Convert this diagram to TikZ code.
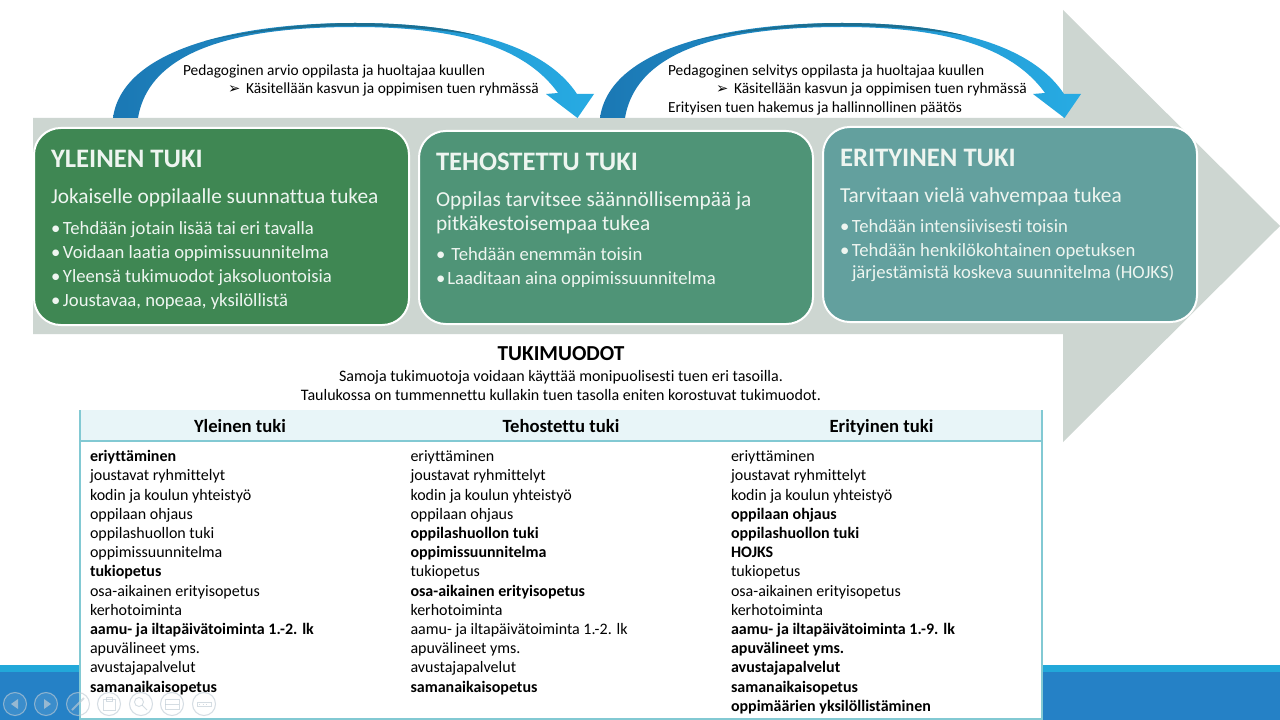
\documentclass[tikz,border=0pt]{standalone}
\usepackage{fontspec}
\setmainfont{Carlito}[Ligatures=NoCommon]
\newfontfamily\djv{DejaVu Sans}
\definecolor{bandgrey}{HTML}{CDD6D1}
\definecolor{boxa}{HTML}{3F8753}
\definecolor{boxb}{HTML}{4F9477}
\definecolor{boxc}{HTML}{63A09E}
\definecolor{tabline}{HTML}{82C9D3}
\definecolor{tabhead}{HTML}{E8F5F8}
\definecolor{footblue}{HTML}{2581C6}
\definecolor{footlight}{HTML}{22A8D9}
\definecolor{arrdark}{HTML}{1B78B4}
\definecolor{arrmid}{HTML}{1F8FC8}
\definecolor{arrlight}{HTML}{27ABE3}
\definecolor{arrtop}{HTML}{1C6E90}
\definecolor{paletext}{HTML}{EEF5F0}
\definecolor{navgrey}{HTML}{BFCBD4}
\newcommand{\bul}[1]{\makebox[#1][l]{•}}
\tikzset{
  x=0.75pt,y=-0.75pt,
  txt/.style={anchor=base west,inner sep=0pt,outer sep=0pt},
  stagebox/.style={draw=white,line width=1.5pt,rounded corners=20pt},
  boxtitle/.style={txt,text=paletext,font=\fontsize{20}{22}\selectfont\bfseries},
  boxsub/.style={txt,text=paletext,font=\fontsize{16}{18}\selectfont},
  boxitem/.style={txt,text=paletext,font=\fontsize{14}{16}\selectfont},
  flownote/.style={txt,font=\fontsize{11.55}{13}\selectfont},
  tcell/.style={txt,font=\fontsize{12}{14}\selectfont},
  thead/.style={anchor=base,inner sep=0pt,font=\fontsize{14}{16}\selectfont\bfseries},
  centerline/.style={anchor=base,inner sep=0pt,font=\fontsize{12}{14}\selectfont},
  navring/.style={draw=navgrey,line width=0.8pt,fill=white,fill opacity=0.10,draw opacity=0.65},
  navmark/.style={draw=navgrey,line width=0.7pt,draw opacity=0.65},
  navsolid/.style={fill=navgrey,fill opacity=0.7},
  bendarrow/.pic={
    \shade[left color=arrdark,middle color=arrmid,right color=arrlight]
      (113,118) .. controls (122,50) and (235,23) .. (355,23)
      .. controls (445,23) and (540,38) .. (577,94)
      -- (594,94) -- (577.5,118) -- (546,94) -- (558,93)
      .. controls (520,40) and (440,27) .. (355,27)
      .. controls (250,27) and (150,45) .. (138,118) -- cycle;
    \fill[arrtop] (205,41) .. controls (260,28) and (310,23) .. (355,23)
      .. controls (400,23) and (445,27) .. (480,36)
      .. controls (445,30) and (400,26) .. (355,26)
      .. controls (310,26) and (260,30) .. (205,41) -- cycle;
  },
}
\begin{document}
\begin{tikzpicture}
\useasboundingbox (0,0) rectangle (1280,720);
\fill[white] (0,0) rectangle (1280,720);
% footer
\fill[footblue] (0,665) rectangle (1280,720);
\fill[footlight] (0,665) rectangle (1280,672);
% big grey arrow
\fill[bandgrey] (33,118) -- (1063,118) -- (1063,10) -- (1280,226) -- (1063,442) -- (1063,334) -- (33,334) -- cycle;
% curved arrows
\pic at (0,0) {bendarrow};
\pic at (487,0) {bendarrow};
% stage boxes
\draw[stagebox,fill=boxa] (34,128) rectangle (409,325);
\draw[stagebox,fill=boxb] (419,131) rectangle (813,324);
\draw[stagebox,fill=boxc] (823,127) rectangle (1197,322);
% notes
\node[flownote] (n1) at (183,76) {Pedagoginen arvio oppilasta ja huoltajaa kuullen};
\node[flownote] (n2) at (228,94) {{\djv\fontsize{11}{13}\selectfont ➢}};
\node[flownote] (n3) at (246,94) {Käsitellään kasvun ja oppimisen tuen ryhmässä};
\node[flownote] (n4) at (668,76) {Pedagoginen selvitys oppilasta ja huoltajaa kuullen};
\node[flownote] (n5) at (716,94) {{\djv\fontsize{11}{13}\selectfont ➢}};
\node[flownote] (n6) at (734,94) {Käsitellään kasvun ja oppimisen tuen ryhmässä};
\node[flownote] (n7) at (668,113) {Erityisen tuen hakemus ja hallinnollinen päätös};
% box 1
\node[boxtitle] (a0) at (51,168) {YLEINEN TUKI};
\node[boxsub] (a1) at (51,204) {Jokaiselle oppilaalle suunnattua tukea};
\node[boxitem] (a2) at (51,234) {\bul{9pt}Tehdään jotain lisää tai eri tavalla};
\node[boxitem] (a3) at (51,258) {\bul{9pt}Voidaan laatia oppimissuunnitelma};
\node[boxitem] (a4) at (51,282) {\bul{9pt}Yleensä tukimuodot jaksoluontoisia};
\node[boxitem] (a5) at (51,306) {\bul{9pt}Joustavaa, nopeaa, yksilöllistä};
% box 2
\node[boxtitle] (b0) at (436,171) {TEHOSTETTU TUKI};
\node[boxsub] (b1) at (436,207) {Oppilas tarvitsee säännöllisempää ja};
\node[boxsub] (b2) at (436,230) {pitkäkestoisempaa tukea};
\node[boxitem] (b3) at (436,260) {\bul{11.5pt}Tehdään enemmän toisin};
\node[boxitem] (b4) at (436,284) {\bul{8.5pt}Laaditaan aina oppimissuunnitelma};
% box 3
\node[boxtitle] (c0) at (840,167) {ERITYINEN TUKI};
\node[boxsub] (c1) at (840,203) {Tarvitaan vielä vahvempaa tukea};
\node[boxitem] (c2) at (840,233) {\bul{9pt}Tehdään intensiivisesti toisin};
\node[boxitem] (c3) at (840,257) {\bul{9pt}Tehdään henkilökohtainen opetuksen};
\node[boxitem] (c4) at (852,278) {järjestämistä koskeva suunnitelma (HOJKS)};
% heading
\node[anchor=base,inner sep=0pt,font=\fontsize{16}{18}\selectfont\bfseries] (h0) at (561,360) {TUKIMUODOT};
\node[centerline] (h1) at (561,381) {Samoja tukimuotoja voidaan käyttää monipuolisesti tuen eri tasoilla.};
\node[centerline] (h2) at (561,400) {Taulukossa on tummennettu kullakin tuen tasolla eniten korostuvat tukimuodot.};
% table
\fill[white] (80,410) rectangle (1042,719);
\fill[tabhead] (80,410) rectangle (1042,441);
\draw[tabline,line width=1pt] (80,410) -- (80,719) -- (1042,719) -- (1042,410);
\draw[tabline,line width=1pt] (80,441) -- (1042,441);
\node[thead] (t1) at (240,432) {Yleinen tuki};
\node[thead] (t2) at (561,432) {Tehostettu tuki};
\node[thead] (t3) at (881.5,432) {Erityinen tuki};
% column 1
\node[tcell] (p1) at (90,461.7) {\textbf{eriyttäminen}};
\node[tcell] (p2) at (90,480.9) {joustavat ryhmittelyt};
\node[tcell] (p3) at (90,500.1) {kodin ja koulun yhteistyö};
\node[tcell] (p4) at (90,519.3) {oppilaan ohjaus};
\node[tcell] (p5) at (90,538.5) {oppilashuollon tuki};
\node[tcell] (p6) at (90,557.7) {oppimissuunnitelma};
\node[tcell] (p7) at (90,576.9) {\textbf{tukiopetus}};
\node[tcell] (p8) at (90,596.1) {osa-aikainen erityisopetus};
\node[tcell] (p9) at (90,615.3) {kerhotoiminta};
\node[tcell] (p10) at (90,634.5) {\textbf{aamu- ja iltapäivätoiminta 1.-2. lk}};
\node[tcell] (p11) at (90,653.7) {apuvälineet yms.};
\node[tcell] (p12) at (90,672.9) {avustajapalvelut};
\node[tcell] (p13) at (90,692.1) {\textbf{samanaikaisopetus}};
% column 2
\node[tcell] (q1) at (410.5,461.7) {eriyttäminen};
\node[tcell] (q2) at (410.5,480.9) {joustavat ryhmittelyt};
\node[tcell] (q3) at (410.5,500.1) {kodin ja koulun yhteistyö};
\node[tcell] (q4) at (410.5,519.3) {oppilaan ohjaus};
\node[tcell] (q5) at (410.5,538.5) {\textbf{oppilashuollon tuki}};
\node[tcell] (q6) at (410.5,557.7) {\textbf{oppimissuunnitelma}};
\node[tcell] (q7) at (410.5,576.9) {tukiopetus};
\node[tcell] (q8) at (410.5,596.1) {\textbf{osa-aikainen erityisopetus}};
\node[tcell] (q9) at (410.5,615.3) {kerhotoiminta};
\node[tcell] (q10) at (410.5,634.5) {aamu- ja iltapäivätoiminta 1.-2. lk};
\node[tcell] (q11) at (410.5,653.7) {apuvälineet yms.};
\node[tcell] (q12) at (410.5,672.9) {avustajapalvelut};
\node[tcell] (q13) at (410.5,692.1) {\textbf{samanaikaisopetus}};
% column 3
\node[tcell] (r1) at (731,461.7) {eriyttäminen};
\node[tcell] (r2) at (731,480.9) {joustavat ryhmittelyt};
\node[tcell] (r3) at (731,500.1) {kodin ja koulun yhteistyö};
\node[tcell] (r4) at (731,519.3) {\textbf{oppilaan ohjaus}};
\node[tcell] (r5) at (731,538.5) {\textbf{oppilashuollon tuki}};
\node[tcell] (r6) at (731,557.7) {\textbf{HOJKS}};
\node[tcell] (r7) at (731,576.9) {tukiopetus};
\node[tcell] (r8) at (731,596.1) {osa-aikainen erityisopetus};
\node[tcell] (r9) at (731,615.3) {kerhotoiminta};
\node[tcell] (r10) at (731,634.5) {\textbf{aamu- ja iltapäivätoiminta 1.-9. lk}};
\node[tcell] (r11) at (731,653.7) {\textbf{apuvälineet yms.}};
\node[tcell] (r12) at (731,672.9) {\textbf{avustajapalvelut}};
\node[tcell] (r13) at (731,692.1) {\textbf{samanaikaisopetus}};
\node[tcell] (r14) at (731,711.3) {\textbf{oppimäärien yksilöllistäminen}};
% slide navigation controls
\foreach \cx in {15,46,78,109,141,172,204}
  \draw[navring] (\cx,704) circle[radius=11.5];
\fill[navsolid] (18,699) -- (18,709) -- (11,704) -- cycle;
\fill[navsolid] (44,699) -- (44,709) -- (51,704) -- cycle;
\draw[navmark,line width=1.4pt] (72,710) -- (84,698);
\draw[navmark] (103,699) rectangle (115,710);
\draw[navmark] (106,697) rectangle (112,701);
\draw[navmark] (139,702) circle[radius=4.5];
\draw[navmark] (142,705) -- (147,710);
\draw[navmark] (165,699) rectangle (179,709);
\draw[navmark] (165,704) -- (179,704);
\draw[navmark] (197,702) rectangle (211,706);
\draw[navmark,dotted] (199,704) -- (209,704);
\end{tikzpicture}
\end{document}
